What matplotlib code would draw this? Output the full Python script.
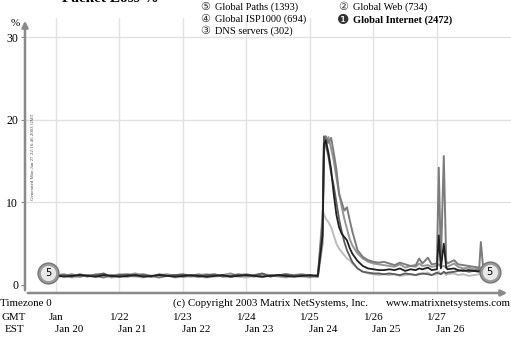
import numpy as np
import matplotlib
matplotlib.use("Agg")
import matplotlib.pyplot as plt
import matplotlib.transforms as mtransforms

plt.rcParams['font.family'] = ['Liberation Serif', 'DejaVu Sans']

# hours since Jan 20 00:00 GMT
base_h = [21, 24, 27, 30, 33, 36, 39, 42, 45, 48, 51, 54, 57, 60, 63, 66, 69, 72,
          75, 78, 81, 84, 87, 90, 93, 96, 99, 102, 105, 108, 111, 114, 117, 120, 123]
spike_h = [124.8, 125.3, 126, 127, 128, 129, 130, 131, 132, 133, 134, 135, 136,
           138, 140, 142, 144, 146, 148]
post_h = [150, 152, 154, 156, 158, 160, 161.3, 162.5, 164.6, 166, 168, 168.7, 169.5,
          170.6, 171.5, 172, 174.5, 176, 178, 180, 182, 184, 184.6, 185.5, 186, 187.9]
hours = base_h + spike_h + post_h

paths = [1.4, 1.2, 1.3, 1.1, 1.2, 1.0, 1.3, 1.2, 1.1, 1.3, 1.2, 1.4, 1.1, 1.0, 1.2, 1.3, 1.1, 1.2,
         1.0, 1.2, 1.3, 1.1, 1.2, 1.4, 1.1, 1.2, 1.0, 1.3, 1.2, 1.1, 1.3, 1.2, 1.1, 1.2, 1.0,
         5.0, 17.5, 16.8, 17.9, 16.5, 15.0, 13.0, 11.2, 9.5, 8.0, 6.8, 5.6, 4.8, 3.8, 3.2, 2.8, 2.6, 2.5, 2.4,
         2.3, 2.2, 2.5, 2.1, 2.3, 2.2, 2.6, 2.3, 2.4, 2.2, 2.3, 2.5, 2.2, 2.3, 2.1, 2.2, 2.6, 2.2, 2.0,
         2.1, 1.9, 2.0, 2.1, 1.8, 1.9, 1.6]
web = [1.2, 1.0, 1.1, 1.3, 1.0, 1.2, 1.1, 0.9, 1.2, 1.1, 1.0, 1.2, 1.3, 1.1, 0.9, 1.1, 1.2, 1.0,
       1.1, 1.3, 1.0, 1.2, 1.1, 1.0, 1.2, 1.3, 1.1, 1.0, 1.2, 1.1, 1.0, 1.2, 1.3, 1.1, 1.0,
       8.0, 16.0, 18.0, 17.2, 17.8, 16.0, 14.0, 11.0, 10.0, 9.0, 9.4, 7.9, 6.5, 4.2, 3.4, 3.0, 2.8, 2.7, 2.8,
       2.6, 2.4, 2.7, 2.5, 2.3, 2.4, 3.2, 2.6, 3.3, 2.5, 2.6, 14.2, 2.8, 15.6, 2.9, 2.6, 3.0, 2.5, 2.4,
       2.3, 2.2, 2.1, 5.2, 2.0, 2.1, 1.9]
isp = [1.3, 1.1, 1.2, 1.0, 1.3, 1.1, 1.2, 1.4, 1.0, 1.2, 1.3, 1.1, 1.2, 1.0, 1.3, 1.1, 1.2, 1.3,
       1.1, 1.0, 1.2, 1.3, 1.0, 1.1, 1.3, 1.1, 1.2, 1.4, 1.0, 1.2, 1.3, 1.1, 1.2, 1.0, 1.2,
       7.0, 18.0, 17.0, 15.5, 13.5, 12.0, 10.0, 8.0, 6.5, 5.2, 4.2, 3.5, 2.8, 2.0, 1.6, 1.5, 1.4, 1.4, 1.3,
       1.4, 1.3, 1.2, 1.4, 1.3, 1.2, 1.3, 1.4, 1.3, 1.2, 1.5, 1.4, 1.3, 1.6, 1.4, 1.5, 1.6, 1.7, 1.8,
       1.6, 1.7, 1.8, 1.7, 1.9, 1.8, 1.7]
dns = [0.9, 1.0, 1.1, 0.9, 1.0, 1.2, 1.0, 1.1, 0.9, 1.0, 1.1, 1.0, 0.9, 1.1, 1.0, 1.2, 0.9, 1.0,
       1.1, 1.0, 0.9, 1.0, 1.1, 1.2, 1.0, 0.9, 1.1, 1.0, 1.2, 1.0, 0.9, 1.1, 1.0, 0.9, 1.1,
       9.0, 8.6, 8.0, 7.6, 7.0, 6.0, 5.0, 4.4, 4.0, 3.6, 3.2, 3.0, 2.6, 2.0, 1.6, 1.4, 1.3, 1.2, 1.3,
       1.2, 1.3, 1.1, 1.2, 1.3, 1.2, 1.4, 1.3, 1.5, 1.2, 1.3, 1.6, 1.3, 1.5, 1.2, 1.3, 1.4, 1.2, 1.3,
       1.1, 1.2, 1.3, 1.4, 1.2, 1.3, 1.4]
internet = [1.1, 1.2, 1.0, 1.1, 1.2, 1.1, 1.0, 1.2, 1.1, 1.0, 1.1, 1.2, 1.0, 1.1, 1.2, 1.1, 1.0, 1.1,
            1.2, 1.1, 1.0, 1.1, 1.2, 1.0, 1.1, 1.2, 1.1, 1.0, 1.1, 1.2, 1.1, 1.0, 1.1, 1.2, 1.1,
            6.0, 17.0, 17.5, 16.0, 14.0, 11.0, 8.5, 7.0, 6.2, 5.8, 5.4, 4.5, 3.8, 2.9, 2.3, 2.0, 1.9, 1.8, 1.8,
            1.9, 1.8, 2.0, 1.7, 1.9, 1.8, 2.0, 1.9, 2.1, 1.8, 1.9, 6.0, 2.0, 5.0, 2.1, 1.9, 2.0, 1.8, 1.7,
            1.8, 1.7, 1.6, 1.8, 1.6, 1.7, 1.5]

gmt_h = [24, 48, 72, 96, 120, 144, 168]
gmt_labels = ["Jan", "1/22", "1/23", "1/24", "1/25", "1/26", "1/27"]
est_h = [29, 53, 77, 101, 125, 149, 173]
est_labels = ["Jan 20", "Jan 21", "Jan 22", "Jan 23", "Jan 24", "Jan 25", "Jan 26"]

W, H = 511, 346
fig = plt.figure(figsize=(W / 100, H / 100), dpi=100)
fig.patch.set_facecolor('white')
ax = fig.add_axes([25 / W, (H - 293) / H, 486 / W, 275 / H])
ax.set_xlim(12.3, 196)
ax.set_ylim(-0.97, 32.3)
for s in ax.spines.values():
    s.set_visible(False)

# grid
for g in gmt_h:
    ax.axvline(g, color='#e2e2e2', lw=1.0, zorder=0)
for g in [10, 20, 30]:
    ax.axhline(g, color='#e2e2e2', lw=1.0, zorder=0)

ax.set_xticks([])
ax.set_yticks([0, 10, 20, 30])
ax.set_yticklabels(["0", "10", "20", "30"], fontsize=8.5)
ax.tick_params(axis='y', length=3, width=0.8, color='#888888', pad=2)

# axis arrows
arr = dict(arrowstyle='-|>', color='#8a8a8a', lw=1.8, mutation_scale=9)
ax.annotate('', xy=(0, 1.0), xytext=(0, 0), xycoords='axes fraction', arrowprops=arr)
ax.annotate('', xy=(0.998, 0), xytext=(0, 0), xycoords='axes fraction', arrowprops=arr)

# lines
ax.plot(hours, dns, color='#bdbdbd', lw=1.4, zorder=3)
ax.plot(hours, paths, color='#969696', lw=1.4, zorder=3)
ax.plot(hours, web, color='#7c7c7c', lw=1.4, zorder=3)
ax.plot(hours, isp, color='#5c5c5c', lw=1.3, zorder=3)
ax.plot(hours, internet, color='#202020', lw=1.3, zorder=4)

# end markers
for hx, vy in [(hours[0], paths[0]), (hours[-1], paths[-1])]:
    ax.plot(hx, vy, 'o', ms=15, mfc='#9a9a9a', mec='#777777', zorder=5)
    ax.plot(hx, vy, 'o', ms=10, mfc='#e8e8e8', mec='#e8e8e8', zorder=6)
    ax.text(hx, vy, "5", fontsize=7, ha='center', va='center', zorder=7, family='DejaVu Sans')


def fx(px):
    return px / W


def fy(py):
    return 1 - py / H


# title (cut at the top, as in the original)
fig.text(fx(62), fy(-2), "Packet Loss %", fontsize=11, fontweight='bold', va='center')
fig.text(fx(15), fy(23), "%", fontsize=8, ha='center', va='center')
fig.text(fx(33), fy(157), "Generated Mon Jan 27 22:16:46 2003 GMT", fontsize=3.5,
         rotation=90, ha='center', va='center', color='#444444')

# legend
leg = [(205, 7, "⑤", "Global Paths (1393)", 'normal'),
       (205, 19, "④", "Global ISP1000 (694)", 'normal'),
       (205, 31, "③", "DNS servers (302)", 'normal'),
       (343, 7, "②", "Global Web (734)", 'normal'),
       (343, 20, "❶", "Global Internet (2472)", 'bold')]
for px, py, sym, lab, wt in leg:
    fig.text(fx(px), fy(py), sym, fontsize=8 if wt == 'normal' else 10, ha='center', va='center',
             family='DejaVu Sans', color='#333333')
    fig.text(fx(px + 10), fy(py), lab, fontsize=7.5, fontweight=wt, ha='left', va='center')

# bottom text
fs = 7.9
fig.text(fx(0), fy(303), "Timezone 0", fontsize=fs, va='center')
fig.text(fx(173), fy(303), "(c) Copyright 2003 Matrix NetSystems, Inc.", fontsize=fs, va='center')
fig.text(fx(511), fy(303), "www.matrixnetsystems.com", fontsize=fs, va='center', ha='right')
fig.text(fx(1), fy(317), "GMT", fontsize=fs, va='center')
fig.text(fx(5), fy(330), "EST", fontsize=fs, va='center')
tr = mtransforms.blended_transform_factory(ax.transData, fig.transFigure)
for h, lab in zip(gmt_h, gmt_labels):
    ax.text(h, fy(317), lab, transform=tr, fontsize=fs, ha='center', va='center', clip_on=False)
for h, lab in zip(est_h, est_labels):
    ax.text(h, fy(330), lab, transform=tr, fontsize=fs, ha='center', va='center', clip_on=False)

fig.savefig("out.png", dpi=100)
